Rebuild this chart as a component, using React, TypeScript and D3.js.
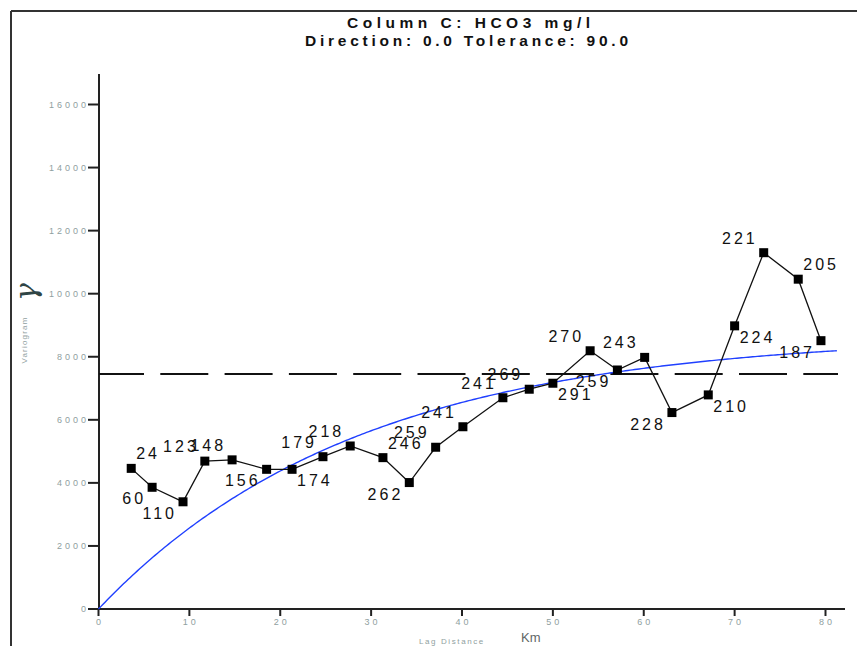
import React from "react";
import * as d3 from "d3";

// Experimental variogram: lag distance (km), semivariance, and pair counts per lag
const lagKm = [3.6, 5.9, 9.3, 11.7, 14.7, 18.5, 21.3, 24.7, 27.7, 31.3, 34.2, 37.1, 40.1, 44.5, 47.4, 50.0, 54.1, 57.1, 60.1, 63.1, 67.1, 70.0, 73.2, 77.0, 79.5];
const gammaValues = [4460, 3860, 3400, 4690, 4730, 4430, 4430, 4830, 5170, 4800, 4010, 5130, 5780, 6700, 6970, 7160, 8190, 7580, 7980, 6230, 6790, 8980, 11300, 10460, 8510];
const pairCounts = ["24", "60", "110", "123", "148", "156", "174", "179", "218", "246", "262", "259", "241", "241", "269", "291", "270", "259", "243", "228", "210", "224", "221", "205", "187"];
// Which side of each point its pair count sits on: u/l = above/below, l/r = left/right
const labelSide = ["ur", "ll", "ll", "ul", "ul", "ll", "lr", "ul", "ul", "ur", "ll", "ul", "ul", "ul", "ul", "lr", "ul", "ll", "ul", "ll", "lr", "lr", "ul", "ur", "ll"];

const xTicks = [0, 10, 20, 30, 40, 50, 60, 70, 80];
const yTicks = [0, 2000, 4000, 6000, 8000, 10000, 12000, 14000, 16000];

// Exponential model and sample variance
const modelSill = 8700;
const modelRange = 28.6;
const modelMaxLag = 81.3;
const sampleVariance = 7450;

const titleLines = ["Column C:  HCO3 mg/l", "Direction: 0.0   Tolerance: 90.0"];

const W = 857;
const H = 646;

export default function App() {
  const x = d3.scaleLinear().domain([0, 80]).range([98.5, 825.5]);
  const y = d3.scaleLinear().domain([0, 16000]).range([609, 104.5]);

  const pts = lagKm.map((h, i) => ({ h, g: gammaValues[i], n: pairCounts[i], side: labelSide[i] }));

  const expLine = d3
    .line<{ h: number; g: number }>()
    .x((d) => x(d.h))
    .y((d) => y(d.g));

  const modelPts = d3.range(0, modelMaxLag + 0.001, 0.25).map((h) => ({
    h,
    g: modelSill * (1 - Math.exp(-h / modelRange)),
  }));

  const tickColor = "#8fa0a0";
  const tickFont = "'Liberation Sans', Arial, sans-serif";

  return (
    <svg
      width={W}
      height={H}
      viewBox={`0 0 ${W} ${H}`}
      style={{ position: "absolute", left: 0, top: 0, background: "#fff" }}
    >
      <rect x={0} y={0} width={W} height={H} fill="#fff" />
      {/* outer frame */}
      <line x1={11} y1={11} x2={W} y2={11} stroke="#333" strokeWidth={2} />
      <line x1={11} y1={11} x2={11} y2={H} stroke="#333" strokeWidth={2} />

      {/* title */}
      <g fontFamily={tickFont} fontWeight="bold" fontSize={15.5} fill="#111">
        <text x={347} y={28} textLength={243} lengthAdjust="spacing">
          {titleLines[0]}
        </text>
        <text x={305} y={46} textLength={323} lengthAdjust="spacing">
          {titleLines[1]}
        </text>
      </g>

      {/* y axis */}
      <line x1={99} y1={74} x2={99} y2={610} stroke="#222" strokeWidth={2} />
      {yTicks.map((t) => (
        <g key={"y" + t}>
          <line x1={88} x2={99} y1={y(t)} y2={y(t)} stroke="#222" strokeWidth={2} />
          <text
            x={89}
            y={y(t) + 3}
            textAnchor="end"
            fontFamily={tickFont}
            fontSize={9}
            letterSpacing={3}
            fill={tickColor}
          >
            {t}
          </text>
        </g>
      ))}

      {/* x axis */}
      <line x1={98} y1={609} x2={845} y2={609} stroke="#222" strokeWidth={2} />
      {xTicks.map((t) => (
        <g key={"x" + t}>
          <line x1={x(t)} x2={x(t)} y1={609} y2={616} stroke="#222" strokeWidth={2} />
          <text
            x={x(t) + 1.5}
            y={625}
            textAnchor="middle"
            fontFamily={tickFont}
            fontSize={9}
            letterSpacing={3}
            fill={tickColor}
          >
            {t}
          </text>
        </g>
      ))}

      {/* axis titles */}
      <text x={419} y={644} fontFamily={tickFont} fontSize={8} letterSpacing={1.6} fill={tickColor}>
        Lag Distance
      </text>
      <text x={521} y={642} fontFamily={tickFont} fontSize={13} fill="#5f6666">
        Km
      </text>
      <text
        transform="translate(27,340) rotate(-90)"
        textAnchor="middle"
        fontFamily={tickFont}
        fontSize={8}
        letterSpacing={1.2}
        fill={tickColor}
      >
        Variogram
      </text>
      <text
        transform="translate(36,292) rotate(-90)"
        textAnchor="middle"
        fontFamily="'DejaVu Serif', serif"
        fontStyle="italic"
        fontSize={30}
        fill="#2f4545"
      >
        γ
      </text>

      {/* sample variance */}
      <line
        x1={99}
        x2={838}
        y1={y(sampleVariance)}
        y2={y(sampleVariance)}
        stroke="#111"
        strokeWidth={2}
        strokeDasharray="48,16.3"
        strokeDashoffset={3}
      />

      {/* fitted model */}
      <path d={expLine(modelPts) || ""} fill="none" stroke="#2040ff" strokeWidth={1.4} />

      {/* experimental variogram */}
      <path d={expLine(pts.map((p) => ({ h: p.h, g: p.g }))) || ""} fill="none" stroke="#111" strokeWidth={1.3} />
      {pts.map((p, i) => (
        <rect key={"m" + i} x={x(p.h) - 4.5} y={y(p.g) - 4.5} width={9} height={9} fill="#000" />
      ))}

      {/* pair counts */}
      {pts.map((p, i) => {
        const right = p.side[1] === "r";
        const up = p.side[0] === "u";
        return (
          <text
            key={"l" + i}
            x={x(p.h) + (right ? 5 : -6)}
            y={y(p.g) + (up ? -9 : 17)}
            textAnchor={right ? "start" : "end"}
            fontFamily={tickFont}
            fontSize={16}
            letterSpacing={3}
            fill="#111"
          >
            {p.n}
          </text>
        );
      })}
    </svg>
  );
}
